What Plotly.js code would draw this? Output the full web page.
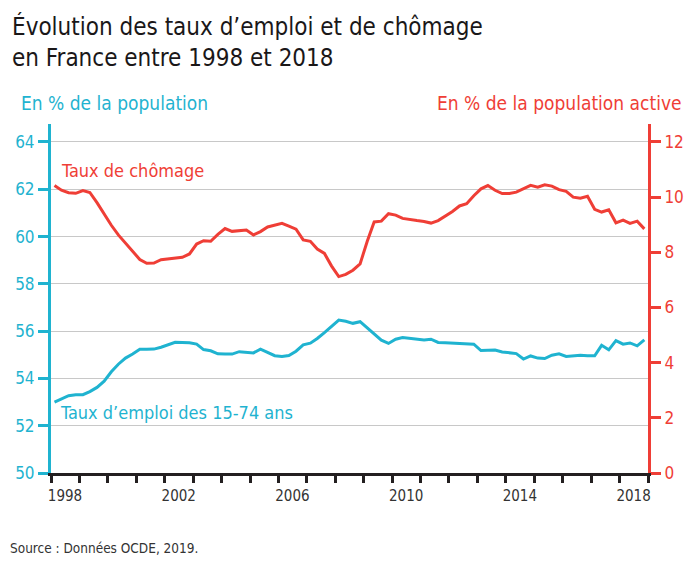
<!DOCTYPE html>
<html>
<head>
<meta charset="utf-8">
<script src="https://cdn.plot.ly/plotly-3.0.1.min.js"></script>
<style>
  html, body { margin: 0; padding: 0; background: #fff; }
  #chart { width: 698px; height: 565px; }
</style>
</head>
<body>
<div id="chart"></div>
<script>
// Quarterly data, 1998 Q1 – 2018 Q4
const firstYear = 1998;
const lastYear = 2018;

// Taux de chômage (% de la population active) – right axis
const chomage = [
  10.42, 10.25, 10.16, 10.14, 10.24, 10.17, 9.80, 9.38, 8.98, 8.63,
  8.33, 8.04, 7.74, 7.60, 7.61, 7.73, 7.76, 7.79, 7.82, 7.94,
  8.30, 8.42, 8.40, 8.65, 8.86, 8.76, 8.78, 8.81, 8.63, 8.75,
  8.92, 8.98, 9.05, 8.95, 8.84, 8.45, 8.40, 8.12, 7.96, 7.50,
  7.12, 7.20, 7.35, 7.58, 8.40, 9.10, 9.13, 9.40, 9.35, 9.23,
  9.18, 9.15, 9.12, 9.06, 9.15, 9.32, 9.48, 9.68, 9.76, 10.05,
  10.30, 10.42, 10.25, 10.13, 10.13, 10.18, 10.30, 10.43, 10.36, 10.45,
  10.40, 10.27, 10.21, 10.00, 9.96, 10.03, 9.56, 9.46, 9.54, 9.07,
  9.17, 9.05, 9.13, 8.85
];

// Taux d'emploi des 15-74 ans (% de la population) – left axis
const emploi = [
  53.00, 53.14, 53.27, 53.31, 53.31, 53.44, 53.62, 53.88, 54.28, 54.60,
  54.86, 55.03, 55.23, 55.23, 55.24, 55.32, 55.44, 55.53, 55.52, 55.51,
  55.45, 55.22, 55.17, 55.04, 55.03, 55.03, 55.13, 55.11, 55.08, 55.24,
  55.10, 54.96, 54.93, 54.97, 55.15, 55.42, 55.49, 55.69, 55.94, 56.20,
  56.47, 56.42, 56.33, 56.40, 56.15, 55.88, 55.62, 55.48, 55.66, 55.73,
  55.70, 55.66, 55.63, 55.66, 55.52, 55.51, 55.50, 55.48, 55.46, 55.45,
  55.18, 55.18, 55.20, 55.12, 55.10, 55.05, 54.82, 54.95, 54.86, 54.84,
  54.98, 55.04, 54.93, 54.97, 54.98, 54.96, 54.96, 55.40, 55.21, 55.60,
  55.45, 55.50, 55.38, 55.63
];

const labelYears = [1998, 2002, 2006, 2010, 2014, 2018];
const leftTicks = [50, 52, 54, 56, 58, 60, 62, 64];
const rightTicks = [0, 2, 4, 6, 8, 10, 12];

// quarter mid-points as dates
const quarterMid = ['02-15', '05-15', '08-15', '11-15'];
const dates = [];
for (let y = firstYear; y <= lastYear; y++) {
  quarterMid.forEach(m => dates.push(y + '-' + m));
}
const tickYears = [];
for (let y = firstYear; y <= lastYear + 1; y++) tickYears.push(y);
const tickVals = tickYears.map(y => y + '-01-01');
const tickText = tickYears.map(y => labelYears.includes(y) ? String(y) : '');

const CYAN = '#1fb3d0';
const RED = '#ef3e36';
const FONT = '"Liberation Sans Narrow", "Arial Narrow", "DejaVu Sans Condensed", sans-serif';

const traces = [
  {
    x: dates, y: emploi, type: 'scatter', mode: 'lines',
    line: { color: CYAN, width: 3 }, yaxis: 'y', hoverinfo: 'skip'
  },
  {
    x: dates, y: chomage, type: 'scatter', mode: 'lines',
    line: { color: RED, width: 3 }, yaxis: 'y2', hoverinfo: 'skip'
  }
];

const L = 51, R = 648, T = 124, B = 473;
const W = R - L, H = B - T;
const px = x => (x - L) / W;
const py = y => (B - y) / H;

const layout = {
  width: 698, height: 565,
  margin: { l: L, r: 698 - R, t: T, b: 565 - B },
  paper_bgcolor: '#fff', plot_bgcolor: '#fff',
  showlegend: false,
  font: { family: FONT, color: '#333' },
  xaxis: {
    type: 'date',
    range: [firstYear + '-01-01', (lastYear + 1) + '-01-01'],
    tickmode: 'array', tickvals: tickVals, ticktext: tickText,
    ticks: 'outside', ticklen: 7, tickwidth: 3, tickcolor: '#231f20',
    ticklabelshift: 14,
    showline: true, linecolor: '#231f20', linewidth: 3,
    showgrid: false, zeroline: false,
    tickfont: { family: FONT, size: 15, color: '#333' }
  },
  yaxis: {
    range: [50, 64.76],
    tickmode: 'array', tickvals: leftTicks,
    ticks: 'outside', ticklen: 10, tickwidth: 3, tickcolor: CYAN,
    showline: true, linecolor: CYAN, linewidth: 3,
    showgrid: true, gridcolor: '#c8c8c8', gridwidth: 1,
    zeroline: false,
    tickfont: { family: FONT, size: 17, color: CYAN }
  },
  yaxis2: {
    range: [0, 14.76 * 6 / 7],
    overlaying: 'y', side: 'right',
    tickmode: 'array', tickvals: rightTicks,
    ticks: 'outside', ticklen: 10, tickwidth: 3, tickcolor: RED,
    showline: true, linecolor: RED, linewidth: 3,
    showgrid: false, zeroline: false,
    tickfont: { family: FONT, size: 17, color: RED }
  },
  annotations: [
    { text: 'Évolution des taux d’emploi et de chômage<br>en France entre 1998 et 2018',
      xref: 'paper', yref: 'paper', align: 'left',
      x: px(10), y: py(10), xanchor: 'left', yanchor: 'top', showarrow: false,
      font: { family: FONT, size: 24, color: '#1a1718' } },
    { text: 'En % de la population', xref: 'paper', yref: 'paper',
      x: px(19), y: py(103), xanchor: 'left', yanchor: 'middle', showarrow: false,
      font: { family: FONT, size: 19, color: CYAN } },
    { text: 'En % de la population active', xref: 'paper', yref: 'paper',
      x: px(684), y: py(103), xanchor: 'right', yanchor: 'middle', showarrow: false,
      font: { family: FONT, size: 19, color: RED } },
    { text: 'Taux de chômage', xref: 'paper', yref: 'paper',
      x: px(59), y: py(170), xanchor: 'left', yanchor: 'middle', showarrow: false,
      font: { family: FONT, size: 18, color: RED } },
    { text: 'Taux d’emploi des 15-74 ans', xref: 'paper', yref: 'paper',
      x: px(58), y: py(412), xanchor: 'left', yanchor: 'middle', showarrow: false,
      font: { family: FONT, size: 18, color: CYAN } },
    { text: 'Source : Données OCDE, 2019.', xref: 'paper', yref: 'paper',
      x: px(8), y: py(548), xanchor: 'left', yanchor: 'middle', showarrow: false,
      font: { family: FONT, size: 13.5, color: '#333' } }
  ]
};

Plotly.newPlot('chart', traces, layout, { staticPlot: true, displayModeBar: false });
</script>
</body>
</html>
